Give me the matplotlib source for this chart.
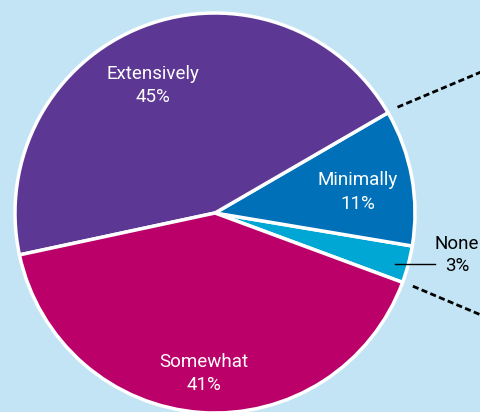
import numpy as np
import matplotlib.pyplot as plt

# dados do gráfico
categorias = ['None', 'Minimally', 'Extensively', 'Somewhat']
valores = [3, 11, 45, 41]
cores = ['#00a6d4', '#0070b8', '#5c3793', '#bc006a']

fundo = '#c2e4f5'
fonte = ['Roboto', 'DejaVu Sans']

W, H = 481, 412
fig = plt.figure(figsize=(W / 100, H / 100), dpi=100, facecolor=fundo)
ax = fig.add_axes([0, 0, 1, 1])
ax.set_facecolor(fundo)

cx, cy, R = 215, H - 213, 200
wedges, _ = ax.pie(valores, colors=cores, startangle=-20.3, counterclock=True,
                   center=(cx, cy), radius=R, frame=True,
                   wedgeprops=dict(edgecolor='white', linewidth=2.5))
ax.set_xlim(0, W)
ax.set_ylim(0, H)
ax.set_aspect('equal')
ax.axis('off')

# posição dos rótulos internos (ângulo, distância relativa ao raio)
pos = {'Minimally': (8.5, 0.72), 'Extensively': (116, 0.71), 'Somewhat': (266, 0.805)}
for w, cat, v in zip(wedges, categorias, valores):
    if cat == 'None':
        continue
    a, d = pos[cat]
    ang = np.deg2rad(a)
    x = cx + d * R * np.cos(ang)
    y = cy + d * R * np.sin(ang)
    ax.text(x, y, f'{cat}\n{v}%', ha='center', va='center', color='white',
            fontsize=13.5, family=fonte, linespacing=1.4)

# rótulo externo da fatia "None"
w = wedges[0]
ang = np.deg2rad((w.theta1 + w.theta2) / 2)
x0 = cx + 0.93 * R * np.cos(ang)
y0 = H - 264
ax.plot([x0, 435], [y0, y0], color='black', linewidth=1)
ax.text(457, y0 + 9, f'{categorias[0]}\n{valores[0]}%', ha='center', va='center',
        color='black', fontsize=13.5, family=fonte, linespacing=1.25)

# linhas tracejadas saindo da pizza
for theta, y_fim in [(wedges[1].theta2, H - 72), (wedges[0].theta1, H - 315)]:
    a = np.deg2rad(theta)
    xs = cx + 1.055 * R * np.cos(a)
    ys = cy + 1.055 * R * np.sin(a)
    ax.plot([xs, W], [ys, y_fim], color='black', linewidth=2,
            linestyle=(0, (2.2, 1.2)), solid_capstyle='butt')

fig.savefig('out.png', dpi=100, facecolor=fundo)
